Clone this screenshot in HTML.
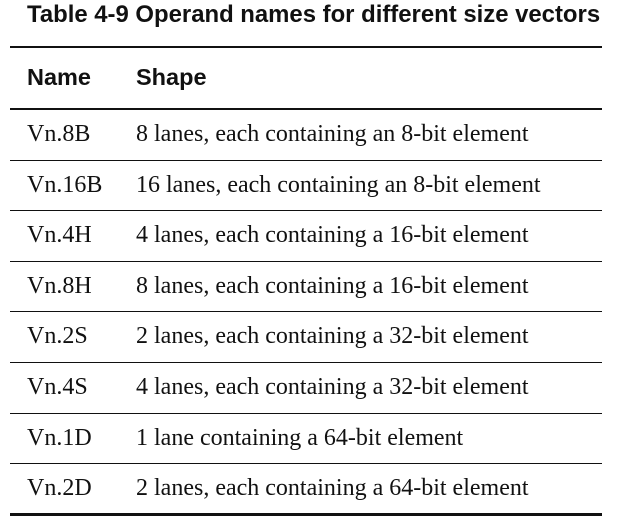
<!DOCTYPE html>
<html><head><meta charset="utf-8"><style>
body{margin:0;width:620px;height:530px;background:#fff;position:relative;overflow:hidden;color:#111}
.t{position:absolute;left:27px;top:2px;font:bold 23.9px "Liberation Sans",sans-serif;white-space:nowrap;line-height:26px}
.l{position:absolute;left:10px;width:592px;background:#111}
.c{position:absolute;white-space:nowrap;line-height:26px}
.h{font:bold 23.5px "Liberation Sans",sans-serif}
.s{font:24px "Liberation Serif",serif}
</style></head><body>
<div class="t">Table 4-9 Operand names for different size vectors</div>
<div class="l" style="top:46px;height:2px"></div>
<div class="c h" style="left:27px;top:64px">Name</div>
<div class="c h" style="left:136px;top:64px">Shape</div>
<div class="l" style="top:108px;height:2px"></div>
<div id="rows"></div>
<script>
const names=["Vn.8B","Vn.16B","Vn.4H","Vn.8H","Vn.2S","Vn.4S","Vn.1D","Vn.2D"];
const shapes=["8 lanes, each containing an 8-bit element","16 lanes, each containing an 8-bit element","4 lanes, each containing a 16-bit element","8 lanes, each containing a 16-bit element","2 lanes, each containing a 32-bit element","4 lanes, each containing a 32-bit element","1 lane containing a 64-bit element","2 lanes, each containing a 64-bit element"];
const root=document.getElementById('rows');
names.forEach((n,i)=>{
  const y=110+i*50.6;
  const a=document.createElement('div');a.className='c s';a.style.left='27px';a.style.top=(y+11)+'px';a.textContent=n;
  
  
  const b=document.createElement('div');b.className='c s';b.style.left='136px';b.style.top=(y+11)+'px';b.textContent=shapes[i];
  
  
  const l=document.createElement('div');l.className='l';const last=i===names.length-1;
  l.style.top=(y+49.5-(last?1:0))+'px';l.style.height=(last?3:1)+'px';
  
  
  root.appendChild(a);root.appendChild(b);root.appendChild(l);
});
</script>
</body></html>
